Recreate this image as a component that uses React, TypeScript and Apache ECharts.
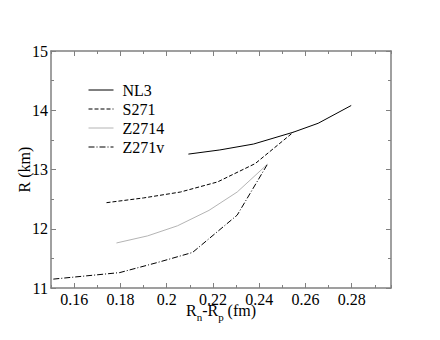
import React, { useEffect, useRef } from "react";
import * as echarts from "echarts";

// ---- data ----
const nl3X = [0.2094, 0.2230, 0.2376, 0.2548, 0.2655, 0.2798];
const nl3Y = [13.26, 13.33, 13.43, 13.63, 13.78, 14.08];

const s271X = [0.174, 0.190, 0.206, 0.222, 0.2383, 0.2548];
const s271Y = [12.44, 12.52, 12.62, 12.79, 13.10, 13.63];

const z2714X = [0.1783, 0.1918, 0.2047, 0.2183, 0.2305, 0.2436];
const z2714Y = [11.76, 11.88, 12.05, 12.31, 12.62, 13.09];

const z271vX = [0.151, 0.1797, 0.196, 0.2112, 0.2305, 0.2436];
const z271vY = [11.15, 11.26, 11.43, 11.60, 12.23, 13.09];

const xMajorTicks = [0.16, 0.18, 0.2, 0.22, 0.24, 0.26, 0.28];
const yTicks = [11, 12, 13, 14, 15];

const seriesNames = ["NL3", "S271", "Z2714", "Z271v"];

const pairs = (xs: number[], ys: number[]) => xs.map((x, i) => [x, ys[i]]);

const FONT = "Liberation Serif";
const AXIS_GRAY = "#808080";
const X_MIN = 0.15;
const X_MAX = 0.297;

export default function App() {
  const ref = useRef<HTMLDivElement>(null);
  useEffect(() => {
    if (!ref.current) return;
    const chart = echarts.init(ref.current, undefined, { renderer: "svg" });
    const lineAxis = { show: true, lineStyle: { color: AXIS_GRAY, width: 1.5 } };
    const xLabel = (v: number) => {
      const hit = xMajorTicks.find((t) => Math.abs(t - Number(v)) < 1e-6);
      return hit === undefined ? "" : String(hit);
    };
    const minorX = (position: string) => ({
      type: "value",
      position,
      min: X_MIN,
      max: X_MAX,
      interval: 0.01,
      axisLine: lineAxis,
      splitLine: { show: false },
      axisTick: { show: true, inside: true, length: 3, lineStyle: { color: AXIS_GRAY } },
      axisLabel: { show: false },
    });
    const majorX = (position: string) => ({
      type: "value",
      position,
      min: X_MIN,
      max: X_MAX,
      axisLine: { show: false },
      splitLine: { show: false },
      axisTick: { show: true, inside: true, length: 5, customValues: xMajorTicks, lineStyle: { color: AXIS_GRAY } },
      axisLabel: { show: false },
    });
    chart.setOption({
      animation: false,
      grid: { left: 51, right: 49, top: 51, bottom: 52 },
      legend: {
        orient: "vertical",
        left: 88,
        top: 82,
        padding: 0,
        itemWidth: 25,
        itemHeight: 10,
        itemGap: 3,
        data: seriesNames,
        itemStyle: { opacity: 0 },
        lineStyle: { width: 1 },
        textStyle: { fontFamily: FONT, fontSize: 16, color: "#000", padding: [0, 0, 0, 4] },
      },
      xAxis: [
        {
          ...minorX("bottom"),
          axisLabel: {
            show: true,
            formatter: xLabel,
            fontFamily: FONT,
            fontSize: 16,
            color: "#000",
            margin: 3,
          },
          name: "{a|R}{s|n}{a|-R}{s|p}{a| (fm)}",
          nameLocation: "middle",
          nameGap: 14,
          nameMoveOverlap: false,
          nameTextStyle: {
            fontFamily: FONT,
            rich: {
              a: { fontFamily: FONT, fontSize: 16, color: "#000", verticalAlign: "top", lineHeight: 20 },
              s: { fontFamily: FONT, fontSize: 11, color: "#000", verticalAlign: "top", padding: [9, 0, 0, 0], lineHeight: 12 },
            },
          },
        },
        majorX("bottom"),
        minorX("top"),
        majorX("top"),
      ],
      yAxis: [
        {
          type: "value",
          position: "left",
          min: yTicks[0],
          max: yTicks[yTicks.length - 1],
          interval: 1,
          axisLine: lineAxis,
          splitLine: { show: false },
          axisTick: { show: true, inside: true, length: 5, lineStyle: { color: AXIS_GRAY } },
          minorTick: { show: true, splitNumber: 2, length: 3, lineStyle: { color: AXIS_GRAY } },
          minorSplitLine: { show: false },
          axisLabel: { fontFamily: FONT, fontSize: 16, color: "#000", margin: 3 },
          name: "R (km)",
          nameLocation: "middle",
          nameGap: 19,
          nameMoveOverlap: false,
          nameTextStyle: { fontFamily: FONT, fontSize: 16, color: "#000" },
        },
        {
          type: "value",
          position: "right",
          min: yTicks[0],
          max: yTicks[yTicks.length - 1],
          interval: 1,
          axisLine: lineAxis,
          splitLine: { show: false },
          axisTick: { show: true, inside: true, length: 5, lineStyle: { color: AXIS_GRAY } },
          minorTick: { show: true, splitNumber: 2, length: 3, lineStyle: { color: AXIS_GRAY } },
          minorSplitLine: { show: false },
          axisLabel: { show: false },
        },
      ],
      series: [
        {
          name: "NL3",
          type: "line",
          data: pairs(nl3X, nl3Y),
          symbol: "none",
          lineStyle: { color: "#000", width: 1, type: "solid" },
          itemStyle: { color: "#000" },
        },
        {
          name: "S271",
          type: "line",
          data: pairs(s271X, s271Y),
          symbol: "none",
          lineStyle: { color: "#000", width: 1, type: [4, 2] },
          itemStyle: { color: "#000" },
        },
        {
          name: "Z2714",
          type: "line",
          data: pairs(z2714X, z2714Y),
          symbol: "none",
          lineStyle: { color: "#b4b4b4", width: 1, type: "solid" },
          itemStyle: { color: "#b4b4b4" },
        },
        {
          name: "Z271v",
          type: "line",
          data: pairs(z271vX, z271vY),
          symbol: "none",
          lineStyle: { color: "#000", width: 1, type: [6, 2, 1, 2] },
          itemStyle: { color: "#000" },
        },
      ],
    });
    return () => chart.dispose();
  }, []);
  return (
    <div
      ref={ref}
      style={{ position: "absolute", left: 0, top: 0, width: 440, height: 340 }}
    />
  );
}
